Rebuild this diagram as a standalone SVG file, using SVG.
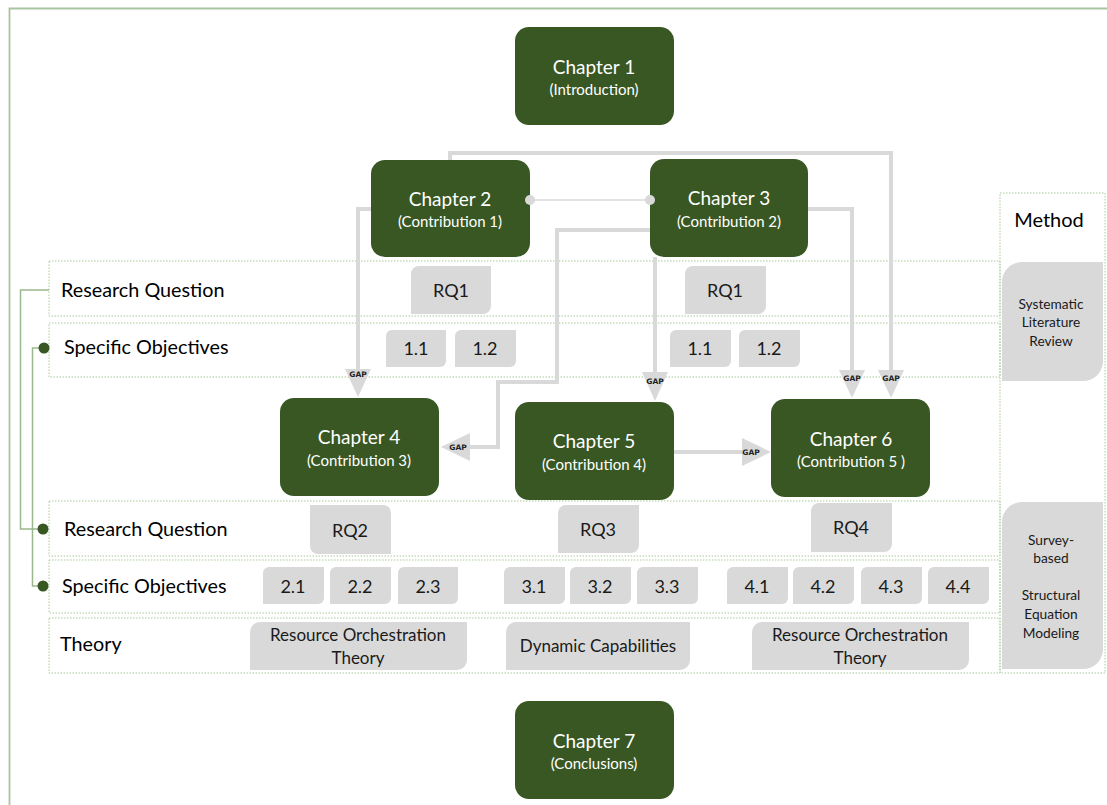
<svg xmlns="http://www.w3.org/2000/svg" width="1107" height="805" viewBox="0 0 1107 805">
<style>
.ch{fill:#385723}
.cht{font-family:Lato,"Liberation Sans",sans-serif;fill:#fff;text-anchor:middle}
.t1{font-size:19px}
.t2{font-size:15px}
.row{fill:none;stroke:#a9c99a;stroke-width:1;stroke-dasharray:1.5 1.5}
.lab{font-family:Lato,"Liberation Sans",sans-serif;font-size:19.8px;fill:#000}
.gb{fill:#d9d9d9}
.gt{font-family:Lato,"Liberation Sans",sans-serif;font-size:18px;fill:#1a1a1a;text-anchor:middle}
.th{font-family:Lato,"Liberation Sans",sans-serif;font-size:17px;fill:#1a1a1a;text-anchor:middle}
.mt{font-family:Lato,"Liberation Sans",sans-serif;font-size:13.7px;fill:#1a1a1a;text-anchor:middle}
.con{fill:none;stroke:#d9d9d9;stroke-width:4}
.ah{fill:#d9d9d9}
.gap{font-family:"DejaVu Sans","Liberation Sans",sans-serif;font-size:7.5px;font-weight:bold;fill:#222;text-anchor:middle}
.br{fill:none;stroke:#9ab88c;stroke-width:1.5}
.dot{fill:#385723}
</style>
<rect width="1107" height="805" fill="#fff"/>
<path d="M9.5,805 V8.5 H1107" fill="none" stroke="#a9c4a0" stroke-width="1.8"/>

<g id="rows">
<rect class="row" x="49" y="261" width="951" height="55"/>
<rect class="row" x="49" y="323" width="951" height="54"/>
<rect class="row" x="49" y="501" width="951" height="55"/>
<rect class="row" x="49" y="560" width="951" height="53"/>
<rect class="row" x="49" y="618" width="951" height="55"/>
<rect class="row" x="1000" y="193" width="105" height="480"/>
</g>

<g id="row-labels">
<text class="lab" x="61" y="297">Research Question</text>
<text class="lab" x="64" y="354">Specific Objectives</text>
<text class="lab" x="64" y="536">Research Question</text>
<text class="lab" x="62" y="593">Specific Objectives</text>
<text class="lab" x="60" y="651">Theory</text>
</g>

<g id="bracket">
<polyline class="br" points="49,290 20.5,290 20.5,529 43,529"/>
<polyline class="br" points="44,348 32.5,348 32.5,586 43,586"/>
<circle class="dot" cx="44" cy="348" r="5.5"/>
<circle class="dot" cx="43" cy="529" r="5.5"/>
<circle class="dot" cx="43" cy="586" r="5.5"/>
</g>

<g id="ch1"><rect class="ch" x="515" y="27" width="159" height="98" rx="14"/><text class="cht t1" x="594" y="74">Chapter 1</text><text class="cht t2" x="594" y="95">(Introduction)</text></g>
<g id="ch2"><rect class="ch" x="371" y="160" width="159" height="97" rx="14"/><text class="cht t1" x="450" y="206">Chapter 2</text><text class="cht t2" x="450" y="227">(Contribution 1)</text></g>
<g id="ch3"><rect class="ch" x="650" y="159" width="158" height="98" rx="14"/><text class="cht t1" x="729" y="205">Chapter 3</text><text class="cht t2" x="729" y="227">(Contribution 2)</text></g>
<g id="ch4"><rect class="ch" x="280" y="398" width="159" height="98" rx="14"/><text class="cht t1" x="359" y="444">Chapter 4</text><text class="cht t2" x="359" y="466">(Contribution 3)</text></g>
<g id="ch5"><rect class="ch" x="515" y="402" width="159" height="98" rx="14"/><text class="cht t1" x="594" y="448">Chapter 5</text><text class="cht t2" x="594" y="470">(Contribution 4)</text></g>
<g id="ch6"><rect class="ch" x="771" y="399" width="159" height="98" rx="14"/><text class="cht t1" x="851" y="446">Chapter 6</text><text class="cht t2" x="851" y="467">(Contribution 5 )</text></g>
<g id="ch7"><rect class="ch" x="515" y="701" width="159" height="98" rx="14"/><text class="cht t1" x="594" y="748">Chapter 7</text><text class="cht t2" x="594" y="769">(Conclusions)</text></g>

<g id="connectors">
<path class="con" d="M450,160 V153 H891 V372"/>
<path class="con" d="M371,209 H358 V372"/>
<path class="con" d="M808,209 H852 V372"/>
<path class="con" d="M650,230 H557 V382 H498 V447 H468"/>
<path class="con" d="M655,257 V375"/>
<path class="con" d="M674,452 H744"/>
<path d="M530,200 H650" fill="none" stroke="#d9d9d9" stroke-width="1.5"/>
<circle class="ah" cx="530" cy="200" r="5"/>
<circle class="ah" cx="650" cy="200" r="5"/>
<polygon class="ah" points="345,369 371,369 358,397"/>
<polygon class="ah" points="642,372 668,372 655,401"/>
<polygon class="ah" points="839,370 865,370 852,398"/>
<polygon class="ah" points="878,370 904,370 891,398"/>
<polygon class="ah" points="470,433 470,461 441,447"/>
<polygon class="ah" points="742,438 742,466 771,452"/>
<text class="gap" x="358" y="377">GAP</text>
<text class="gap" x="655" y="384">GAP</text>
<text class="gap" x="852" y="381">GAP</text>
<text class="gap" x="891" y="381">GAP</text>
<text class="gap" x="458" y="450">GAP</text>
<text class="gap" x="751" y="455">GAP</text>
</g>

<g id="rq1a"><path class="gb" d="M419,266 H491 V306 A8,8 0 0 1 483,314 H411 V274 A8,8 0 0 1 419,266 Z"/><text class="gt" x="451" y="297">RQ1</text></g>
<g id="rq1b"><path class="gb" d="M693,266 H766 V306 A8,8 0 0 1 758,314 H685 V274 A8,8 0 0 1 693,266 Z"/><text class="gt" x="725" y="297">RQ1</text></g>
<g id="so11a"><path class="gb" d="M392,330 H446 V361 A6,6 0 0 1 440,367 H386 V336 A6,6 0 0 1 392,330 Z"/><text class="gt" x="416" y="355">1.1</text></g>
<g id="so12a"><path class="gb" d="M461,330 H516 V361 A6,6 0 0 1 510,367 H455 V336 A6,6 0 0 1 461,330 Z"/><text class="gt" x="485" y="355">1.2</text></g>
<g id="so11b"><path class="gb" d="M676,330 H731 V361 A6,6 0 0 1 725,367 H670 V336 A6,6 0 0 1 676,330 Z"/><text class="gt" x="700" y="355">1.1</text></g>
<g id="so12b"><path class="gb" d="M745,330 H800 V361 A6,6 0 0 1 794,367 H739 V336 A6,6 0 0 1 745,330 Z"/><text class="gt" x="769" y="355">1.2</text></g>

<g id="rq2"><path class="gb" d="M310,505 H383 A8,8 0 0 1 391,513 V554 H318 A8,8 0 0 1 310,546 Z"/><text class="gt" x="350" y="537">RQ2</text></g>
<g id="rq3"><path class="gb" d="M566,505 H639 V545 A8,8 0 0 1 631,553 H558 V513 A8,8 0 0 1 566,505 Z"/><text class="gt" x="598" y="536">RQ3</text></g>
<g id="rq4"><path class="gb" d="M819,503 H892 V544 A8,8 0 0 1 884,552 H811 V511 A8,8 0 0 1 819,503 Z"/><text class="gt" x="851" y="534">RQ4</text></g>

<g id="so21"><path class="gb" d="M269,567 H324 V598 A6,6 0 0 1 318,604 H263 V573 A6,6 0 0 1 269,567 Z"/><text class="gt" x="293" y="593">2.1</text></g>
<g id="so22"><path class="gb" d="M336,567 H391 V598 A6,6 0 0 1 385,604 H330 V573 A6,6 0 0 1 336,567 Z"/><text class="gt" x="360" y="593">2.2</text></g>
<g id="so23"><path class="gb" d="M404,567 H458 V598 A6,6 0 0 1 452,604 H398 V573 A6,6 0 0 1 404,567 Z"/><text class="gt" x="428" y="593">2.3</text></g>
<g id="so31"><path class="gb" d="M510,567 H565 V598 A6,6 0 0 1 559,604 H504 V573 A6,6 0 0 1 510,567 Z"/><text class="gt" x="534" y="593">3.1</text></g>
<g id="so32"><path class="gb" d="M576,567 H631 V598 A6,6 0 0 1 625,604 H570 V573 A6,6 0 0 1 576,567 Z"/><text class="gt" x="600" y="593">3.2</text></g>
<g id="so33"><path class="gb" d="M643,567 H698 V598 A6,6 0 0 1 692,604 H637 V573 A6,6 0 0 1 643,567 Z"/><text class="gt" x="667" y="593">3.3</text></g>
<g id="so41"><path class="gb" d="M733,567 H788 V598 A6,6 0 0 1 782,604 H727 V573 A6,6 0 0 1 733,567 Z"/><text class="gt" x="757" y="593">4.1</text></g>
<g id="so42"><path class="gb" d="M799,567 H854 V598 A6,6 0 0 1 848,604 H793 V573 A6,6 0 0 1 799,567 Z"/><text class="gt" x="823" y="593">4.2</text></g>
<g id="so43"><path class="gb" d="M867,567 H922 V598 A6,6 0 0 1 916,604 H861 V573 A6,6 0 0 1 867,567 Z"/><text class="gt" x="891" y="593">4.3</text></g>
<g id="so44"><path class="gb" d="M934,567 H989 V598 A6,6 0 0 1 983,604 H928 V573 A6,6 0 0 1 934,567 Z"/><text class="gt" x="958" y="593">4.4</text></g>

<g id="th1"><path class="gb" d="M260,622 H467 V660 A10,10 0 0 1 457,670 H250 V632 A10,10 0 0 1 260,622 Z"/><text class="th" x="358" y="641">Resource Orchestration</text><text class="th" x="358" y="664">Theory</text></g>
<g id="th2"><path class="gb" d="M516,622 H690 V660 A10,10 0 0 1 680,670 H506 V632 A10,10 0 0 1 516,622 Z"/><text class="th" x="598" y="652">Dynamic Capabilities</text></g>
<g id="th3"><path class="gb" d="M762,622 H969 V660 A10,10 0 0 1 959,670 H752 V632 A10,10 0 0 1 762,622 Z"/><text class="th" x="860" y="641">Resource Orchestration</text><text class="th" x="860" y="664">Theory</text></g>

<g id="method"><text class="lab" x="1049" y="227" text-anchor="middle" style="font-size:20px">Method</text></g>
<g id="slr"><path class="gb" d="M1022,262 H1103 V361 A20,20 0 0 1 1083,381 H1002 V282 A20,20 0 0 1 1022,262 Z"/><text class="mt" x="1051" y="309">Systematic</text><text class="mt" x="1051" y="327">Literature</text><text class="mt" x="1051" y="346">Review</text></g>
<g id="sem"><path class="gb" d="M1022,502 H1103 V649 A20,20 0 0 1 1083,669 H1002 V522 A20,20 0 0 1 1022,502 Z"/><text class="mt" x="1051" y="545">Survey-</text><text class="mt" x="1051" y="563">based</text><text class="mt" x="1051" y="600">Structural</text><text class="mt" x="1051" y="619">Equation</text><text class="mt" x="1051" y="638">Modeling</text></g>
</svg>
